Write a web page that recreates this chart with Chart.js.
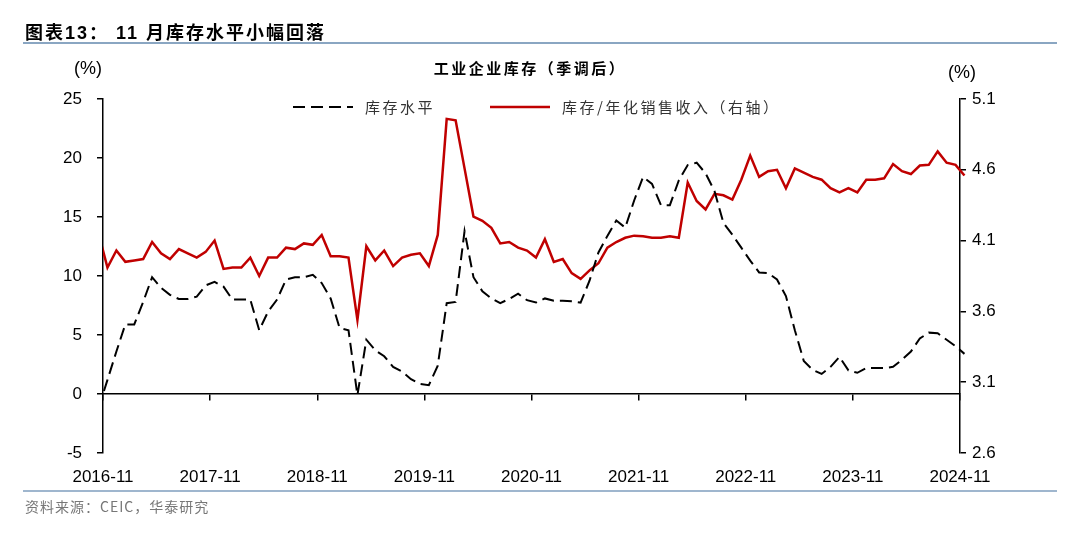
<!DOCTYPE html>
<html>
<head>
<meta charset="utf-8">
<script src="https://cdn.jsdelivr.net/npm/chart.js@4/dist/chart.umd.min.js"></script>
<style>
  body { margin: 0; background: #fff; }
  #wrap { position: relative; width: 1080px; height: 533px; background: #fff; overflow: hidden; }
  #chart { position: absolute; left: 0; top: 0; }
  .txt { position: absolute; white-space: nowrap; color: #000; }
  #fig-title { left: 25px; top: 18px; font: bold 18px "Liberation Sans", "Noto Sans CJK SC", sans-serif; letter-spacing: 2px; }
  .rule { position: absolute; left: 23px; width: 1034px; height: 2px; background: #8AA6C2; }
  #chart-title { left: 0; width: 1060px; text-align: center; top: 57px; font: bold 15px "Noto Sans CJK SC", sans-serif; letter-spacing: 2.5px; }
  .unit { top: 58px; font: 18px "Liberation Sans", sans-serif; }
  #source { left: 25px; top: 496px; font: 14px "Noto Sans CJK SC", "Liberation Sans", sans-serif; color: #777; letter-spacing: 1px; }
  .legend-item { position: absolute; top: 96px; display: flex; align-items: center; font: 15px "Noto Sans CJK SC", sans-serif; color: #333; letter-spacing: 2.5px; }
  .legend-item svg { margin-right: 12px; }
</style>
</head>
<body>
<div id="wrap">
  <canvas id="chart" width="1080" height="533"></canvas>
  <div class="txt" id="fig-title">图表13：&nbsp;11 月库存水平小幅回落</div>
  <div class="rule" style="top:42px"></div>
  <div class="txt" id="chart-title">工业企业库存（季调后）</div>
  <div class="txt unit" style="left:74px">(%)</div>
  <div class="txt unit" style="left:948px; top:62px">(%)</div>
  <div id="legend"></div>
  <div class="rule" style="top:490px; background:#9FB6CE"></div>
  <div class="txt" id="source">资料来源：CEIC，华泰研究</div>
</div>
<script>
// --- Data (monthly, 2016-10 .. 2024-11) ---
const startYear = 2016, startMonth = 10;
const months = [];
for (let i = 0; i < 98; i++) {
    const m = (startMonth - 1 + i) % 12 + 1;
    const y = startYear + Math.floor((startMonth - 1 + i) / 12);
    months.push(`${y}-${String(m).padStart(2, '0')}`);
}

// 库存水平 (%, left axis)
const inventoryLevel = [
    -1.2, 1.2, 3.6, 5.9, 5.9, 7.8, 9.9, 9.0, 8.4, 8.05, 8.05, 8.25,
    9.2, 9.5, 9.1, 8.0, 8.0, 8.0, 5.4, 7.0, 8.0, 9.7, 9.9, 9.9,
    10.1, 9.4, 8.1, 5.6, 5.4, -0.1, 4.6, 3.7, 3.2, 2.3, 1.9, 1.25,
    0.85, 0.75, 2.4, 7.7, 7.8, 13.8, 9.9, 8.7, 8.1, 7.7, 8.05, 8.5,
    7.95, 7.75, 8.1, 7.9, 7.9, 7.85, 7.75, 9.6, 12.0, 13.4, 14.7, 14.1,
    16.4, 18.4, 17.8, 16.0, 16.0, 18.1, 19.4, 19.6, 18.7, 17.2, 14.5, 13.5,
    12.4, 11.3, 10.3, 10.25, 9.7, 8.3, 5.4, 2.8, 2.05, 1.7, 2.3, 3.15,
    2.0, 1.8, 2.2, 2.2, 2.2, 2.3, 2.9, 3.6, 4.7, 5.2, 5.15, 4.6,
    4.05, 3.4
];

// 库存/年化销售收入 (%, right axis)
const inventoryRatio = [
    4.15, 3.91, 4.03, 3.95, 3.96, 3.97, 4.09, 4.01, 3.97, 4.04, 4.01, 3.98,
    4.02, 4.10, 3.90, 3.91, 3.91, 3.98, 3.85, 3.98, 3.98, 4.05, 4.04, 4.08,
    4.07, 4.14, 3.99, 3.99, 3.98, 3.54, 4.06, 3.96, 4.03, 3.92, 3.98, 4.00,
    4.01, 3.92, 4.14, 4.96, 4.95, 4.61, 4.27, 4.24, 4.19, 4.08, 4.09, 4.05,
    4.03, 3.98, 4.11, 3.95, 3.97, 3.87, 3.83, 3.89, 3.94, 4.05, 4.09, 4.12,
    4.135, 4.13, 4.12, 4.12, 4.13, 4.12, 4.51, 4.38, 4.32, 4.43, 4.42, 4.39,
    4.53, 4.70, 4.55, 4.59, 4.60, 4.47, 4.61, 4.58, 4.55, 4.53, 4.47, 4.44,
    4.47, 4.44, 4.53, 4.53, 4.54, 4.64, 4.59, 4.57, 4.63, 4.635, 4.73, 4.65,
    4.635, 4.56
];

const yearTicks = ['2016-11', '2017-11', '2018-11', '2019-11', '2020-11', '2021-11', '2022-11', '2023-11', '2024-11'];
const leftTicks = [-5, 0, 5, 10, 15, 20, 25];
const rightTicks = [2.6, 3.1, 3.6, 4.1, 4.6, 5.1];

const seriesNames = ['库存水平', '库存/年化销售收入（右轴）'];

// x position: months since 2016-11, plotted mid-month
const toPoints = (values) => values.map((v, i) => ({ x: i - 0.5, y: v }));

const tickFont = { family: '"Liberation Sans", Arial, sans-serif', size: 17 };
const lineClip = { left: 0, top: 5, right: 6, bottom: 5 };

const yearTickValues = (scale) => {
    scale.ticks = yearTicks.map((_, j) => ({ value: j * 12 }));
};

const chart = new Chart(document.getElementById('chart'), {
    type: 'line',
    data: {
        datasets: [{
            label: seriesNames[0],
            data: toPoints(inventoryLevel),
            xAxisID: 'x',
            yAxisID: 'y',
            borderColor: '#000000',
            borderWidth: 2,
            borderDash: [12, 6],
            pointRadius: 0,
            tension: 0,
            clip: lineClip,
            order: 1
        }, {
            label: seriesNames[1],
            data: toPoints(inventoryRatio),
            xAxisID: 'x',
            yAxisID: 'y1',
            borderColor: '#C00000',
            borderWidth: 2.5,
            pointRadius: 0,
            tension: 0,
            clip: lineClip,
            order: 2
        }]
    },
    options: {
        responsive: false,
        animation: false,
        devicePixelRatio: 1,
        layout: { padding: { left: 63, right: 80, top: 99, bottom: 40 } },
        plugins: { legend: { display: false }, tooltip: { enabled: false } },
        scales: {
            x: {
                type: 'linear',
                position: 'bottom',
                min: 0,
                max: 96,
                border: { display: false },
                grid: { display: false, drawTicks: false },
                afterBuildTicks: yearTickValues,
                afterFit: (scale) => { scale.height = 40; },
                ticks: {
                    font: tickFont,
                    color: '#000',
                    padding: 14,
                    maxRotation: 0,
                    autoSkip: false,
                    callback: (value) => yearTicks[Math.round(value / 12)]
                }
            },
            xZero: {
                type: 'linear',
                position: { y: 0 },
                min: 0,
                max: 96,
                border: { display: true, color: '#000', width: 1.5 },
                grid: { drawOnChartArea: false, drawTicks: true, tickLength: 6, color: '#000', lineWidth: 1.5 },
                afterBuildTicks: yearTickValues,
                ticks: { display: false }
            },
            y: {
                position: 'left',
                min: -5,
                max: 25,
                border: { display: true, color: '#000', width: 1.5 },
                grid: { drawOnChartArea: false, tickLength: 6, color: '#000', lineWidth: 1.5 },
                afterBuildTicks: (scale) => { scale.ticks = leftTicks.map(v => ({ value: v })); },
                afterFit: (scale) => { scale.width = 40; },
                ticks: { font: tickFont, color: '#000', padding: 15 }
            },
            y1: {
                position: 'right',
                min: 2.6,
                max: 5.1,
                border: { display: true, color: '#000', width: 1.5 },
                grid: { drawOnChartArea: false, tickLength: 6, color: '#000', lineWidth: 1.5 },
                afterBuildTicks: (scale) => { scale.ticks = rightTicks.map(v => ({ value: v })); },
                afterFit: (scale) => { scale.width = 40; },
                ticks: { font: tickFont, color: '#000', padding: 6, callback: (v) => v.toFixed(1) }
            }
        }
    }
});

// --- HTML legend built from the datasets ---
const legendBox = document.getElementById('legend');
const legendLeft = [293, 490];
chart.data.datasets.forEach((ds, i) => {
    const item = document.createElement('div');
    item.className = 'legend-item';
    item.style.left = legendLeft[i] + 'px';
    const dash = ds.borderDash ? ds.borderDash.join(',') : 'none';
    item.innerHTML = `
        <svg width="60" height="10"><line x1="0" y1="5" x2="60" y2="5"
            stroke="${ds.borderColor}" stroke-width="${ds.borderWidth}" stroke-dasharray="${dash}"/></svg>
        <span>${ds.label}</span>`;
    legendBox.appendChild(item);
});
</script>
</body>
</html>
